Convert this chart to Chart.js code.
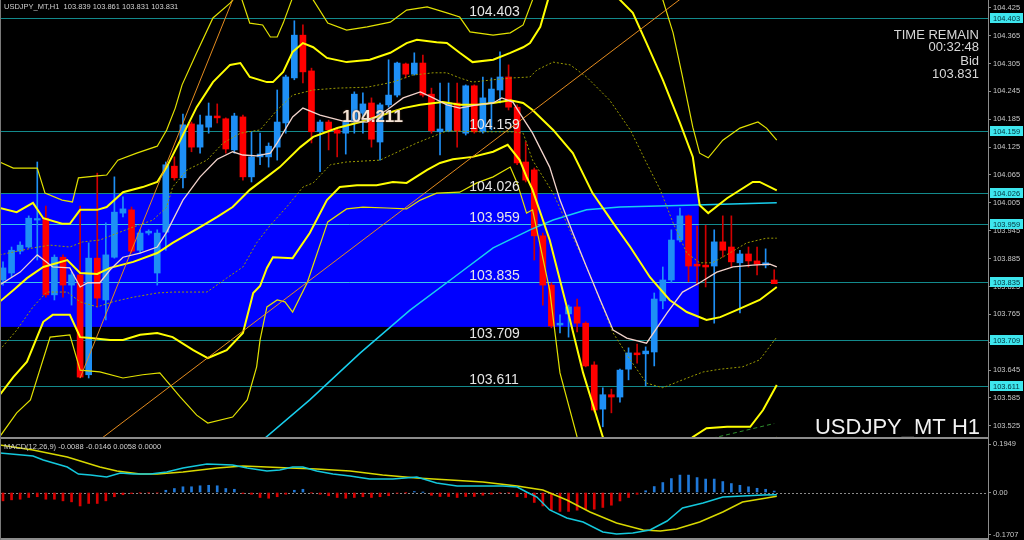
<!DOCTYPE html>
<html>
<head>
<meta charset="utf-8">
<script src="https://cdn.jsdelivr.net/npm/chart.js@4.4.0/dist/chart.umd.min.js"></script>
<style>
  html, body { margin: 0; padding: 0; background: #000; overflow: hidden; }
  #wrap { position: relative; width: 1024px; height: 540px; background: #000; }
  #main { position: absolute; left: 0; top: 0; }
  #sub { position: absolute; left: 0; top: 439px; }
  #sep { position: absolute; left: 0; top: 437px; width: 989px; height: 2px; background: #8c8c8c; }
  #bot { position: absolute; left: 0; top: 538px; width: 989px; height: 2px; background: #8c8c8c; }
  #lft { position: absolute; left: 0; top: 0; width: 1px; height: 540px; background: #7a7a7a; }
</style>
</head>
<body>
<div id="wrap">
  <canvas id="main" width="1024" height="437"></canvas>
  <div id="sep"></div>
  <canvas id="sub" width="1024" height="99"></canvas>
  <div id="bot"></div>
  <div id="lft"></div>
</div>
<script>
// ---- candles (USDJPY H1) ----
const opens = [103.839,103.854,103.901,103.910,103.968,103.972,103.807,103.888,103.828,103.850,
  103.635,103.886,103.796,103.888,103.983,103.990,103.903,103.940,103.854,103.942,
  104.084,104.059,104.175,104.125,104.168,104.192,104.186,104.119,104.190,104.061,
  104.104,104.104,104.125,104.177,104.274,104.366,104.289,104.158,104.179,104.162,
  104.155,104.179,104.198,104.220,104.136,104.216,104.237,104.304,104.282,104.306,
  104.239,104.158,104.160,104.220,104.155,104.257,104.158,104.220,104.248,104.276,
  104.211,104.093,104.076,103.934,103.828,103.742,103.766,103.781,103.746,103.656,
  103.561,103.592,103.587,103.647,103.682,103.680,103.684,103.794,103.839,103.925,
  103.977,103.873,103.871,103.869,103.921,103.910,103.876,103.895,103.880,103.871,
  103.839];
const highs = [103.878,103.910,103.921,103.977,104.093,103.998,103.893,103.893,103.856,103.998,
  103.919,104.069,103.962,104.061,104.018,103.996,103.947,103.947,103.947,104.093,
  104.104,104.196,104.179,104.194,104.220,104.218,104.188,104.198,104.194,104.158,
  104.155,104.134,104.248,104.280,104.397,104.388,104.295,104.183,104.183,104.166,
  104.183,104.244,104.242,104.231,104.220,104.313,104.308,104.306,104.328,104.323,
  104.252,104.263,104.263,104.263,104.259,104.259,104.276,104.274,104.330,104.302,
  104.216,104.136,104.080,103.940,103.833,103.764,103.785,103.798,103.749,103.663,
  103.607,103.604,103.647,103.693,103.701,103.695,103.811,103.867,103.947,103.994,
  103.979,103.955,103.957,103.947,103.977,103.977,103.903,103.910,103.910,103.906,
  103.861];
const lows = [103.828,103.846,103.895,103.908,103.882,103.802,103.796,103.802,103.785,103.628,
  103.628,103.781,103.753,103.886,103.975,103.897,103.897,103.936,103.828,103.903,
  104.054,104.037,104.115,104.112,104.155,104.177,104.112,104.112,104.054,104.050,
  104.087,104.082,104.097,104.155,104.270,104.263,104.134,104.072,104.119,104.104,
  104.110,104.155,104.155,104.125,104.097,104.211,104.233,104.274,104.280,104.233,
  104.155,104.108,104.158,104.125,104.151,104.155,104.155,104.162,104.220,104.205,
  104.087,104.050,103.882,103.785,103.736,103.725,103.716,103.727,103.652,103.555,
  103.523,103.553,103.576,103.624,103.660,103.611,103.654,103.777,103.833,103.921,
  103.835,103.828,103.824,103.746,103.888,103.867,103.768,103.867,103.850,103.865,
  103.831];
const closes = [103.865,103.903,103.914,103.972,103.970,103.807,103.888,103.828,103.850,103.630,
  103.886,103.800,103.893,103.985,103.992,103.901,103.940,103.944,103.940,104.087,
  104.059,104.173,104.125,104.173,104.192,104.188,104.121,104.192,104.061,104.104,
  104.110,104.127,104.179,104.276,104.366,104.287,104.158,104.179,104.162,104.155,
  104.179,104.239,104.218,104.142,104.216,104.237,104.306,104.282,104.306,104.237,
  104.160,104.164,104.220,104.160,104.257,104.158,104.231,104.250,104.276,104.211,
  104.091,104.054,103.934,103.828,103.740,103.746,103.781,103.746,103.654,103.559,
  103.592,103.587,103.645,103.682,103.678,103.686,103.798,103.839,103.925,103.977,
  103.869,103.869,103.867,103.921,103.903,103.878,103.895,103.880,103.873,103.876,
  103.831];

// ---- indicator lines, [bar, price] ----
const maFast = [[-0.4,103.828],[2.0,103.856],[4.0,103.893],[5.8,103.867],[7.8,103.865],[9.0,103.824],
  [9.9,103.833],[11.3,103.833],[12.5,103.861],[14.0,103.888],[16.0,103.897],[18.0,103.910],
  [19.1,103.942],[21.0,104.011],[23.0,104.061],[25.0,104.099],[26.8,104.115],[28.0,104.108],
  [29.6,104.106],[31.2,104.112],[32.0,104.134],[33.8,104.190],[35.0,104.209],[37.0,104.194],
  [39.7,104.181],[42.5,104.179],[44.8,104.205],[46.7,104.231],[48.7,104.244],[50.2,104.231],
  [51.8,104.216],[53.3,104.209],[55.3,104.216],[57.2,104.220],[58.2,104.231],[59.5,104.222],
  [60.3,104.198],[61.8,104.155],[63.8,104.082],[65.0,104.011],[66.5,103.940],[68.1,103.867],
  [69.7,103.796],[71.2,103.731],[72.8,103.714],[75.1,103.703],[77.5,103.768],[79.3,103.813],
  [81.3,103.833],[83.3,103.856],[85.2,103.867],[87.5,103.871],[89.5,103.873],[90.3,103.867]];
const maSlow = [[29.0,103.473],[30.6,103.499],[35.8,103.581],[41.7,103.682],[47.5,103.774],
  [53.3,103.854],[57.2,103.908],[61.5,103.947],[64.2,103.968],[68.1,103.990],[72.0,103.996],
  [79.8,104.000],[90.3,104.005]];
const bandUpOuter = [[-0.4,104.093],[1.2,104.080],[4.0,104.080],[4.9,104.026],[6.9,104.011],[8.1,104.007],
  [8.8,104.059],[11.0,104.063],[12.1,104.065],[13.4,104.097],[15.6,104.112],[18.0,104.127],
  [19.1,104.162],[20.1,104.209],[20.9,104.259],[22.6,104.328],[24.5,104.403],[26.5,104.435],
  [27.6,104.458],[28.8,104.392],[30.3,104.388],[31.2,104.362],[32.0,104.362],[32.7,104.392],
  [33.7,104.442],[35.0,104.470],[36.2,104.442],[37.9,104.392],[40.1,104.377],[42.5,104.384],
  [45.2,104.394],[47.1,104.420],[49.5,104.427],[51.8,104.414],[53.3,104.405],[54.5,104.373],
  [57.2,104.366],[59.2,104.371],[60.7,104.388],[61.8,104.442],[70.0,104.620],[77.0,104.442],
  [78.2,104.371],[79.3,104.276],[80.5,104.168],[81.3,104.112],[82.3,104.102],[84.0,104.140],
  [86.0,104.166],[88.1,104.179],[89.1,104.166],[90.3,104.140]];
const bandUp = [[-0.4,103.994],[1.6,103.985],[3.5,104.005],[4.7,103.972],[6.9,103.960],[7.8,103.960],
  [9.0,103.990],[11.0,103.990],[12.1,103.996],[14.0,104.028],[16.3,104.039],[18.0,104.050],
  [19.1,104.082],[20.7,104.140],[22.6,104.211],[24.5,104.265],[26.5,104.302],[27.7,104.306],
  [28.8,104.276],[30.8,104.265],[31.5,104.265],[32.7,104.287],[33.8,104.330],[35.0,104.349],
  [36.2,104.340],[37.8,104.317],[40.1,104.308],[42.8,104.313],[45.2,104.328],[47.1,104.349],
  [48.3,104.356],[50.6,104.351],[51.8,104.349],[53.3,104.328],[54.8,104.308],[57.2,104.313],
  [59.2,104.328],[60.7,104.340],[61.5,104.349],[62.7,104.384],[63.6,104.442],[67.5,104.520],
  [72.0,104.442],[73.5,104.414],[75.1,104.349],[77.0,104.270],[79.0,104.177],[80.5,104.104],
  [81.3,104.000],[82.3,103.983],[84.5,104.015],[87.5,104.050],[88.3,104.050],[90.3,104.032]];
const bandMid = [[-0.4,103.792],[1.2,103.817],[2.8,103.843],[4.7,103.867],[7.5,103.882],[9.0,103.854],
  [11.0,103.852],[12.5,103.865],[15.2,103.878],[18.0,103.897],[19.8,103.919],[23.0,103.953],
  [25.0,103.975],[26.8,103.996],[28.8,104.033],[30.8,104.061],[32.3,104.082],[34.7,104.125],
  [36.2,104.147],[39.0,104.166],[41.7,104.179],[44.3,104.194],[46.7,104.209],[48.7,104.216],
  [51.3,104.222],[53.3,104.216],[55.3,104.216],[57.2,104.220],[59.2,104.226],[60.7,104.220],
  [61.8,104.205],[64.2,104.162],[66.5,104.112],[68.8,104.026],[71.2,103.962],[73.2,103.910],
  [75.5,103.845],[77.8,103.796],[79.8,103.770],[82.1,103.753],[83.7,103.759],[85.6,103.774],
  [88.3,103.796],[90.3,103.824]];
const bandLow = [[-0.4,103.591],[1.2,103.630],[2.8,103.663],[4.7,103.749],[5.8,103.764],[7.8,103.764],
  [9.0,103.716],[10.2,103.714],[12.5,103.710],[14.0,103.710],[16.0,103.721],[18.0,103.725],
  [19.8,103.716],[22.2,103.688],[23.9,103.671],[26.1,103.688],[28.0,103.725],[29.2,103.811],
  [30.0,103.826],[30.8,103.865],[31.5,103.888],[33.8,103.886],[35.8,103.940],[37.8,104.011],
  [39.3,104.039],[41.3,104.043],[43.6,104.043],[45.5,104.050],[47.1,104.048],[49.5,104.076],
  [51.0,104.091],[52.5,104.099],[54.8,104.104],[57.2,104.115],[58.9,104.130],[60.3,104.097],
  [61.1,104.061],[61.8,104.033],[63.8,103.925],[65.8,103.781],[67.7,103.639],[70.0,103.501],
  [75.0,103.400],[80.5,103.501],[82.1,103.520],[84.5,103.523],[87.2,103.523],[88.7,103.559],
  [90.3,103.613]];
const bandLowOuter = [[-0.4,103.501],[1.6,103.553],[3.2,103.581],[5.5,103.716],[7.8,103.721],[9.0,103.645],
  [11.3,103.641],[14.0,103.628],[16.3,103.635],[18.3,103.639],[20.7,103.587],[22.6,103.548],
  [23.9,103.531],[26.8,103.544],[28.5,103.581],[29.6,103.652],[30.0,103.710],[30.8,103.781],
  [32.0,103.796],[32.9,103.792],[33.8,103.770],[35.5,103.833],[37.9,103.964],[40.1,103.992],
  [42.0,103.996],[44.8,103.994],[47.1,103.992],[48.7,104.011],[50.6,104.026],[53.3,104.028],
  [55.3,104.048],[57.2,104.061],[59.2,104.082],[60.0,104.048],[61.1,103.983],[61.8,103.990],
  [63.8,103.817],[65.0,103.639],[67.0,103.501],[78.0,103.200],[90.3,103.501]];
const dotUp = [[-0.4,103.893],[3.5,103.908],[5.5,103.914],[7.8,103.910],[9.3,103.921],[11.3,103.925],
  [12.8,103.936],[15.2,103.953],[17.5,103.968],[19.1,103.996],[19.8,104.039],[21.5,104.076],
  [23.8,104.097],[25.7,104.134],[27.7,104.155],[30.0,104.162],[32.0,104.205],[33.8,104.237],
  [36.2,104.248],[39.0,104.252],[42.5,104.254],[45.5,104.265],[47.8,104.280],[50.2,104.285],
  [51.8,104.285],[53.3,104.274],[54.8,104.265],[57.2,104.270],[59.5,104.274],[61.5,104.276],
  [62.3,104.291],[64.2,104.308],[66.2,104.302],[68.1,104.276],[70.8,104.226],[73.2,104.162],
  [75.1,104.091],[76.7,104.033],[78.2,103.962],[79.8,103.897],[81.3,103.876],[82.8,103.876],
  [84.8,103.897],[86.8,103.919],[89.1,103.929],[90.3,103.929]];
const dotLow = [[-0.4,103.688],[1.6,103.731],[3.5,103.781],[5.1,103.813],[7.5,103.813],[9.0,103.792],
  [11.0,103.781],[12.8,103.792],[15.2,103.802],[18.0,103.811],[19.8,103.813],[23.8,103.813],
  [26.1,103.843],[28.0,103.867],[29.6,103.919],[31.2,103.957],[33.1,103.996],[35.0,104.039],
  [36.2,104.048],[38.2,104.087],[40.1,104.093],[44.0,104.097],[48.3,104.134],[51.8,104.160],
  [55.7,104.158],[59.5,104.158],[60.7,104.155],[61.8,104.097],[64.2,104.026],[68.1,103.867],
  [71.2,103.725],[73.2,103.667],[75.1,103.617],[77.0,103.607],[79.3,103.624],[81.7,103.641],
  [83.7,103.647],[86.3,103.652],[88.3,103.667],[90.3,103.716]];
const trendSteep = [[9.0,103.628],[28.0,104.497]];
const trendLong = [[10.0,103.477],[80.0,104.457]];
const trendGreen = [[82.0,103.495],[90.0,103.530]];

// ---- MACD(12,26,9) ----
const macdHist = [-0.0335,-0.0295,-0.027,-0.020,-0.017,-0.027,-0.027,-0.0335,-0.0375,-0.054,
  -0.044,-0.044,-0.0335,-0.017,-0.009,-0.004,-0.001,-0.001,-0.0015,0.009,
  0.016,0.023,0.023,0.027,0.029,0.027,0.016,0.013,-0.004,-0.007,
  -0.020,-0.023,-0.017,-0.007,0.009,0.013,-0.001,-0.007,-0.013,-0.020,
  -0.023,-0.020,-0.017,-0.020,-0.017,-0.013,-0.003,-0.0005,0.004,0.0005,
  -0.011,-0.016,-0.016,-0.020,-0.016,-0.016,-0.011,-0.007,-0.001,-0.001,
  -0.017,-0.020,-0.040,-0.054,-0.071,-0.076,-0.076,-0.071,-0.067,-0.067,
  -0.060,-0.051,-0.034,-0.020,-0.007,0.007,0.024,0.040,0.056,0.070,
  0.070,0.060,0.054,0.054,0.044,0.036,0.029,0.023,0.017,0.013,
  0.0058];
const macdMain = [[-0.4,0.1587],[3.5,0.1466],[4.7,0.1306],[7.5,0.1025],[8.8,0.0743],[10.2,0.0703],
  [12.1,0.0623],[13.7,0.0783],[15.2,0.0743],[17.2,0.0743],[19.1,0.0824],[21.0,0.0984],
  [23.8,0.1145],[26.8,0.1105],[28.5,0.0984],[30.8,0.0864],[32.3,0.0904],[33.8,0.1024],
  [35.0,0.1024],[36.6,0.0864],[38.5,0.0743],[40.5,0.0663],[42.8,0.0542],[45.5,0.0542],
  [48.3,0.0623],[50.6,0.0382],[53.0,0.0261],[56.0,0.0261],[58.3,0.0261],[60.0,0.0221],
  [61.1,0.0020],[62.3,-0.0181],[63.8,-0.0703],[65.8,-0.1025],[67.7,-0.1185],[70.0,-0.1587],
  [71.6,-0.1668],[73.5,-0.1627],[75.5,-0.1507],[77.5,-0.1145],[79.3,-0.0623],[81.7,-0.0422],
  [84.0,-0.0181],[86.3,-0.0141],[88.7,-0.0100],[90.3,-0.0088]];
const macdSignal = [[-0.4,0.1908],[3.5,0.1707],[7.5,0.1426],[11.3,0.1024],[13.3,0.0864],[16.0,0.0743],
  [18.0,0.0743],[21.0,0.0824],[25.0,0.0984],[28.0,0.1065],[30.8,0.1025],[33.5,0.0984],
  [36.6,0.0944],[40.5,0.0864],[44.3,0.0703],[48.3,0.0583],[52.2,0.0502],[56.0,0.0422],
  [60.0,0.0261],[63.0,0.0100],[65.8,-0.0301],[68.5,-0.0783],[71.6,-0.1225],[74.7,-0.1507],
  [76.7,-0.1547],[78.6,-0.1466],[81.3,-0.1185],[84.0,-0.0783],[86.3,-0.0382],[89.1,-0.0221],
  [90.3,-0.0146]];

// ---- axes, levels ----
const priceTicks = [104.425,104.365,104.305,104.245,104.185,104.125,104.065,104.005,
  103.945,103.885,103.825,103.765,103.705,103.645,103.585,103.525];
const macdTicks = [0.1949, 0, -0.1707];
const levels = [104.403, 104.159, 104.026, 103.959, 103.835, 103.709, 103.611];
const zone = [-0.35, 81.2, 104.026, 103.738];   // bar from, bar to, price top, price bottom
const levelLabelBar = 54.4;
const pivotLabel = [39.6, 104.211];
const headerText = 'USDJPY_MT,H1  103.839 103.861 103.831 103.831';
const macdText = 'MACD(12,26,9) -0.0088 -0.0146 0.0058 0.0000';
const infoText = ['TIME REMAIN', '00:32:48', 'Bid', '103.831'];

const UP = '#1e8ff5', DOWN = '#ff0000';
const axisFont = { family: 'Liberation Sans', size: 7.5 };

function pts(arr) { return arr.map(p => ({ x: p[0], y: p[1] })); }

function lineSet(arr, color, width, dash, order) {
  return { type: 'line', data: pts(arr), borderColor: color, borderWidth: width,
    borderDash: dash || [], pointRadius: 0, tension: 0, fill: false, order: order || 1 };
}

function rightAxis(min, max, tickVals, fmt) {
  return {
    position: 'right', min: min, max: max,
    afterBuildTicks: s => { s.ticks = tickVals.map(v => ({ value: v })); },
    afterFit: s => { s.width = 36; s.paddingTop = 0; s.paddingBottom = 0; },
    ticks: { color: '#c8c8c8', font: axisFont, padding: 2, autoSkip: false, callback: fmt },
    grid: { drawOnChartArea: false, drawTicks: true, tickLength: 3, color: '#8c8c8c' },
    border: { display: true, color: '#8c8c8c', width: 1 }
  };
}

const xAxis = { type: 'linear', min: -0.35, max: 114.95, offset: false, display: false };

const mainDeco = {
  id: 'mainDeco',
  beforeDatasetsDraw(chart) {
    const { ctx, chartArea: a, scales: { x, y } } = chart;
    ctx.save();
    const zx0 = x.getPixelForValue(zone[0]), zx1 = x.getPixelForValue(zone[1]);
    const zy0 = y.getPixelForValue(zone[2]), zy1 = y.getPixelForValue(zone[3]);
    ctx.fillStyle = '#0000ff';
    ctx.fillRect(zx0, zy0, zx1 - zx0, zy1 - zy0);
    ctx.lineWidth = 1;
    levels.forEach(v => {
      const py = Math.round(y.getPixelForValue(v)) + 0.5;
      ctx.strokeStyle = '#138a8c';
      ctx.beginPath(); ctx.moveTo(a.left, py); ctx.lineTo(a.right, py); ctx.stroke();
      if (py > zy0 + 2 && py < zy1) {
        ctx.strokeStyle = '#3cc4ea';
        ctx.beginPath(); ctx.moveTo(zx0, py); ctx.lineTo(zx1, py); ctx.stroke();
      }
    });
    ctx.restore();
  },
  afterDatasetsDraw(chart) {
    const { ctx, chartArea: a, scales: { x, y } } = chart;
    ctx.save();
    // level labels
    ctx.font = '14px "Liberation Sans"';
    ctx.fillStyle = '#e6e6e6';
    ctx.textAlign = 'left';
    ctx.textBaseline = 'alphabetic';
    const lx = x.getPixelForValue(levelLabelBar);
    levels.forEach(v => ctx.fillText(v.toFixed(3), lx, y.getPixelForValue(v) - 2));
    // pivot label
    ctx.font = 'bold 17px "Liberation Sans"';
    ctx.shadowColor = 'rgba(90,60,40,0.9)';
    ctx.shadowBlur = 2;
    ctx.fillStyle = '#f4e4d6';
    ctx.fillText(pivotLabel[1].toFixed(3), x.getPixelForValue(pivotLabel[0]), y.getPixelForValue(pivotLabel[1]) + 15);
    ctx.shadowBlur = 0;
    ctx.shadowColor = 'transparent';
    // header
    ctx.font = '7.5px "Liberation Sans"';
    ctx.fillStyle = '#d0d0d0';
    ctx.fillText(headerText, 4, 9);
    // time remain block
    ctx.font = '13px "Liberation Sans"';
    ctx.fillStyle = '#d8d8d8';
    ctx.textAlign = 'right';
    [39, 51, 65, 78].forEach((by, i) => ctx.fillText(infoText[i], a.right - 9, by));
    // symbol title
    ctx.font = '22px "Liberation Sans"';
    ctx.fillStyle = '#f2f2f2';
    ctx.fillText('USDJPY_MT H1', a.right - 8, 434);
    ctx.restore();
  },
  afterDraw(chart) {
    const { ctx, scales: { y } } = chart;
    ctx.save();
    ctx.font = '7.5px "Liberation Sans"';
    ctx.textBaseline = 'middle';
    ctx.textAlign = 'left';
    levels.forEach(v => {
      const py = Math.round(y.getPixelForValue(v));
      ctx.fillStyle = '#3ee6ee';
      ctx.fillRect(y.left + 2, py - 5, 33, 10);
      ctx.fillStyle = '#00303a';
      ctx.fillText(v.toFixed(3), y.left + 5, py + 0.5);
    });
    ctx.restore();
  }
};

const subDeco = {
  id: 'subDeco',
  beforeDatasetsDraw(chart) {
    const { ctx, chartArea: a, scales: { y } } = chart;
    const py = Math.round(y.getPixelForValue(0)) + 0.5;
    ctx.save();
    ctx.strokeStyle = '#8a8a8a';
    ctx.lineWidth = 1;
    ctx.setLineDash([2, 2]);
    ctx.beginPath(); ctx.moveTo(a.left, py); ctx.lineTo(a.right, py); ctx.stroke();
    ctx.restore();
  },
  afterDraw(chart) {
    const { ctx } = chart;
    ctx.save();
    ctx.font = '7.5px "Liberation Sans"';
    ctx.fillStyle = '#d0d0d0';
    ctx.fillText(macdText, 4, 10);
    ctx.restore();
  }
};

const candleColors = opens.map((o, i) => closes[i] >= o ? UP : DOWN);
const wickColors = opens.map((o, i) => closes[i] >= o ? UP : '#d00000');

new Chart(document.getElementById('main'), {
  data: {
    datasets: [
      lineSet(bandUpOuter, '#e2e200', 1.2, null, 2),
      lineSet(bandLowOuter, '#e2e200', 1.2, null, 2),
      lineSet(bandUp, '#ffff00', 2, null, 2),
      lineSet(bandMid, '#ffff00', 2, null, 2),
      lineSet(bandLow, '#ffff00', 2, null, 2),
      lineSet(dotUp, '#9a9a00', 1, [2, 2], 2),
      lineSet(dotLow, '#9a9a00', 1, [2, 2], 2),
      lineSet(maSlow, '#18cfee', 1.5, null, 2),
      lineSet(maFast, '#f2d4cc', 1.3, null, 1),
      lineSet(trendSteep, '#e38b1e', 1, null, 1),
      lineSet(trendLong, '#e38b1e', 1, null, 1),
      lineSet(trendGreen, '#2f8f2f', 1, [4, 3], 1),
      { type: 'bar', data: opens.map((o, i) => ({ x: i, y: [o, closes[i]] })),
        backgroundColor: candleColors, barThickness: 6, minBarLength: 1.5, grouped: false, order: 5 },
      { type: 'bar', data: opens.map((o, i) => ({ x: i, y: [lows[i], highs[i]] })),
        backgroundColor: wickColors, barThickness: 1, grouped: false, order: 6 }
    ]
  },
  options: {
    responsive: false, animation: false, devicePixelRatio: 1, events: [],
    layout: { padding: 0 },
    plugins: { legend: { display: false }, tooltip: { enabled: false } },
    scales: {
      x: xAxis,
      y: rightAxis(103.501, 104.4417, priceTicks, v => v.toFixed(3))
    }
  },
  plugins: [mainDeco]
});

new Chart(document.getElementById('sub'), {
  data: {
    datasets: [
      { type: 'bar', data: macdHist.map((v, i) => ({ x: i, y: v })),
        backgroundColor: macdHist.map(v => v >= 0 ? '#1f78d8' : '#d80000'),
        barThickness: 2, grouped: false, order: 3 },
      lineSet(macdMain, '#14c8dc', 1.5, null, 1),
      lineSet(macdSignal, '#d8d800', 1.5, null, 2)
    ]
  },
  options: {
    responsive: false, animation: false, devicePixelRatio: 1, events: [],
    layout: { padding: 0 },
    plugins: { legend: { display: false }, tooltip: { enabled: false } },
    scales: {
      x: xAxis,
      y: rightAxis(-0.1828, 0.2150, macdTicks, v => v === 0 ? '0.00' : v.toFixed(4))
    }
  },
  plugins: [subDeco]
});
</script>
</body>
</html>
